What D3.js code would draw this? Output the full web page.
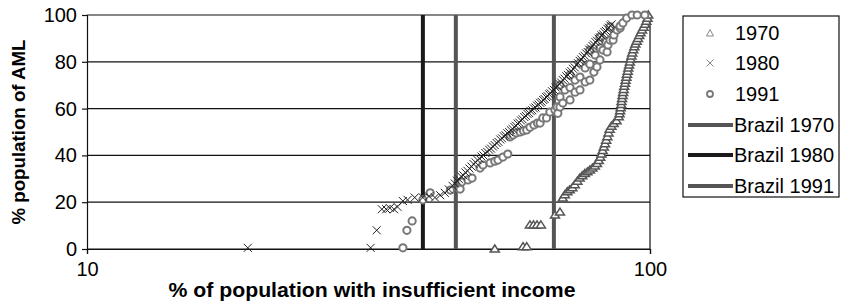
<!DOCTYPE html>
<html>
<head>
<meta charset="utf-8">
<script src="https://cdn.jsdelivr.net/npm/d3@7"></script>
<style>
  body { margin: 0; background: #fff; }
  text { font-family: "Liberation Sans", Arial, Helvetica, sans-serif; fill: #000; }
</style>
</head>
<body>
<svg id="chart" width="841" height="304"></svg>
<script>
// % of population with insufficient income (x) vs % population of AML (y)
var pts1970 = [[53.0,0],[59.5,1],[60.4,1],[61.2,10.3],[62.1,10.3],[63.0,10.3],[64.0,10.3],[67.8,14.5],[69.2,15.8],
  [70.0,21.8],[70.6,23.2],[71.3,24.5],[72.0,25.3],[72.8,26.2],[73.5,27.5],[74.3,29],[75.0,30.3],[75.8,31.3],
  [76.6,32.3],[77.4,33],[78.2,33.8],[79.0,34.6],[79.8,35.5],[80.5,36.5],[81.1,37.8],[81.6,39.2],[82.0,40.6],
  [82.4,42.1],[82.8,43.6],[83.2,45],[83.6,46.5],[84.0,48],[84.4,49.6],[84.8,51.2],[85.4,52.5],[86.2,53.6],
  [87.2,54.8],[88.0,56.5],[88.3,57.8],[88.5,59.1],[88.7,60.4],[88.9,61.7],[89.0,63],[89.2,64.3],[89.4,65.6],
  [89.6,66.9],[89.8,68.2],[90.0,69.5],[90.3,70.8],[90.5,72.1],[90.8,73.4],[91.0,74.7],[91.3,76],[91.5,77.3],
  [91.8,78.6],[92.1,79.9],[92.4,81.2],[92.7,82.5],[93.0,83.8],[93.4,85.1],[93.8,86.4],[94.2,87.6],[94.7,88.8],
  [95.2,90],[95.7,91.2],[96.2,92.4],[96.8,93.6],[97.4,94.8],[98.0,96],[98.5,97.3],[99.0,98.6],[99.3,100]];

var pts1980 = [[19.3,0.5],[31.9,0.5],[32.7,8],[33.4,17],[34.0,17],[34.5,17.5],[35.1,17],[35.6,18],[36.4,20.5],
  [37.1,21],[38.2,22],[39.5,22],[40.5,22.5],[41.5,22],[42.4,23],[43.2,24],[43.9,25.5],[44.6,27],
  [45.0,28],[45.4,29.2],[45.8,29.8],[46.2,31],[46.6,31.5],[47.0,32.7],[47.4,33.4],[47.8,34.4],[48.2,35.2],
  [48.6,36.3],[49.0,37],[49.4,38],[49.8,38.6],[50.2,39.5],[50.6,40],[51.0,41],[51.4,41.5],[51.8,42.4],
  [52.2,42.9],[52.6,43.8],[53.0,44.4],[53.4,45.3],[53.8,45.8],[54.2,46.8],[54.6,47.3],[55.0,48.2],[55.4,48.6],
  [55.8,49.5],[56.2,50],[56.6,50.8],[57.0,51.3],[57.4,52.2],[57.8,52.7],[58.2,53.6],[58.6,54],[59.0,54.9],
  [59.4,55.4],[59.8,56.4],[60.2,56.9],[60.6,57.7],[61.0,58.1],[61.4,58.9],[61.8,59.3],[62.2,60.1],[62.6,60.5],
  [63.0,61.3],[63.4,61.7],[63.8,62.5],[64.2,62.9],[64.6,63.7],[65.0,64.1],[65.4,64.9],[65.8,65.3],[66.2,66.1],
  [66.6,66.5],[67.0,67.4],[67.5,68],[68.0,69],[68.5,69.6],[69.0,70.6],[69.5,71.2],[70.0,72.2],[70.5,72.8],
  [71.0,73.8],[71.5,74.4],[72.0,75.4],[72.5,76],[73.0,77],[73.5,77.6],[74.0,78.7],[74.5,79.4],[75.0,80.4],
  [75.5,81],[76.0,82],[76.5,82.6],[77.0,83.6],[77.5,84.2],[78.0,85.2],[78.5,85.8],[79.0,86.8],[79.5,87.4],
  [80.0,88.4],[80.5,89],[81.0,89.9],[81.5,90.4],[82.0,91.3],[82.5,91.8],[83.0,92.7],[83.5,93.2],[84.0,94.1],
  [84.5,94.6],[85.0,95.5],[85.5,96]];

var pts1991 = [[36.4,0.5],[37.0,8],[37.8,12],[39.5,21],[40.7,24],[44.2,25.2],[46.0,25.6],[46.3,28.6],[47.5,29.5],
  [48.3,30.3],[49.9,34.6],[50.5,35.9],[52.0,36.8],[53.0,37.5],[53.7,38],[54.8,39.3],[55.9,40.6],
  [56.4,47.9],[57.1,48.7],[57.9,49.6],[58.8,50],[59.6,50.5],[60.4,50.9],[61.2,52],[62.2,53],[63.1,53.8],
  [63.8,53.8],[64.5,56],[65.5,56],[66.4,58.5],[67.8,59.4],[68.4,60.7],[68.6,58],
  [69.2,60.7],[69.2,65],[69.2,70],[70.6,68],[70.0,62.4],[72.1,63.7],[72.1,69],[72.1,74.4],[73.6,67],
  [73.6,72.2],[75.1,68],[75.1,73.5],[75.1,79.5],[76.7,71.4],[76.7,77.4],[78.2,72.2],[78.2,79],[78.2,85],
  [79.5,75.6],[79.9,82.9],[80.5,77.8],[81.5,80.8],[81.5,86],[81.5,90.6],[82.5,85],[83.5,88.5],[83.9,84.2],
  [84.2,87.2],[84.9,89.3],[84.9,94.9],[86.0,89.3],[86.3,91.5],[87.4,93.6],[88.5,94.4],[88.5,95.3],
  [89.5,96.6],[90.9,98.7],[92.9,100],[94.9,100],[97.9,100]];

// Brazil reference values (vertical lines)
var brazilNames = ["Brazil 1970", "Brazil 1980", "Brazil 1991"];
var brazilValues = [67.5, 39.5, 45.2];
var brazilColors = ["#555", "#1a1a1a", "#555"];

var yTicks = [0, 20, 40, 60, 80, 100];
var xTicks = [10, 100];

var svg = d3.select("#chart");
var x = d3.scaleLog().domain([10, 100]).range([87, 650]);
var y = d3.scaleLinear().domain([0, 100]).range([249, 15]);

// gridlines
svg.append("g").selectAll("line").data(yTicks).enter().append("line")
  .attr("x1", 87).attr("x2", 650)
  .attr("y1", function(d) { return y(d); }).attr("y2", function(d) { return y(d); })
  .style("stroke", "#111").style("stroke-width", 1.2);
svg.append("line").attr("x1", 650).attr("x2", 650).attr("y1", y(100)).attr("y2", y(0))
  .style("stroke", "#111").style("stroke-width", 1.2);

// axes
var yAxis = svg.append("g").attr("transform", "translate(87,0)")
  .call(d3.axisLeft(y).tickValues(yTicks).tickSize(5).tickPadding(5));
var xAxis = svg.append("g").attr("transform", "translate(0,249)")
  .call(d3.axisBottom(x).tickValues(xTicks).tickFormat(d3.format("d")).tickSize(5).tickPadding(8));
[yAxis, xAxis].forEach(function(a) {
  a.selectAll("path, line").style("stroke", "#111").style("stroke-width", 1.2);
  a.selectAll("text").style("font-size", "20px").style("fill", "#000");
  a.attr("font-family", null);
});

// Brazil lines
var line = d3.line().x(function(d) { return x(d[0]); }).y(function(d) { return y(d[1]); });
brazilValues.forEach(function(v, i) {
  svg.append("path").datum([[v, 0], [v, 100]])
    .attr("d", line)
    .style("stroke", brazilColors[i]).style("stroke-width", 4).style("fill", "none");
});

var triPath = "M-4.5,3L0,-4L4.5,3Z";
var xPath = "M-4,-4L4,4M-4,4L4,-4";

svg.append("g").selectAll("path").data(pts1970).enter().append("path")
  .attr("d", triPath)
  .attr("transform", function(d) { return "translate(" + x(d[0]) + "," + y(d[1]) + ")"; })
  .style("fill", "#fff").style("stroke", "#555").style("stroke-width", 1.5);

svg.append("g").selectAll("circle").data(pts1991).enter().append("circle")
  .attr("cx", function(d) { return x(d[0]); })
  .attr("cy", function(d) { return y(d[1]); })
  .attr("r", 3.6)
  .style("fill", "#fff").style("stroke", "#777").style("stroke-width", 2);

svg.append("g").selectAll("path").data(pts1980).enter().append("path")
  .attr("d", xPath)
  .attr("transform", function(d) { return "translate(" + x(d[0]) + "," + y(d[1]) + ")"; })
  .style("fill", "none").style("stroke", "#222").style("stroke-width", 1);

// axis titles
svg.append("text")
  .attr("transform", "translate(25,132) rotate(-90)")
  .attr("text-anchor", "middle")
  .attr("textLength", 185).attr("lengthAdjust", "spacingAndGlyphs")
  .style("font-size", "19px").style("font-weight", "bold")
  .text("% population of AML");
svg.append("text")
  .attr("x", 372).attr("y", 297)
  .attr("text-anchor", "middle")
  .attr("textLength", 407).attr("lengthAdjust", "spacingAndGlyphs")
  .style("font-size", "20px").style("font-weight", "bold")
  .text("% of population with insufficient income");

// legend
var legend = svg.append("g");
legend.append("rect").attr("x", 683).attr("y", 16).attr("width", 156).attr("height", 181)
  .style("fill", "#fff").style("stroke", "#111").style("stroke-width", 1.2);
var legRows = [33, 63, 94, 125, 155, 186];
var markerNames = ["1970", "1980", "1991"];
markerNames.forEach(function(n, i) {
  var g = legend.append("g").attr("transform", "translate(710," + legRows[i] + ")");
  if (i === 0) g.append("path").attr("d", "M-3.5,3L0,-3.5L3.5,3Z").style("fill", "#fff").style("stroke", "#888");
  if (i === 1) g.append("path").attr("d", "M-3.5,-3.5L3.5,3.5M-3.5,3.5L3.5,-3.5").style("stroke", "#888");
  if (i === 2) g.append("circle").attr("r", 3).style("fill", "#fff").style("stroke", "#777").style("stroke-width", 1.8);
  legend.append("text").attr("x", 735).attr("y", legRows[i]).attr("dy", "0.35em")
    .style("font-size", "20px").text(n);
});
brazilNames.forEach(function(n, i) {
  var r = legRows[i + 3];
  legend.append("line").attr("x1", 688).attr("x2", 733).attr("y1", r).attr("y2", r)
    .style("stroke", brazilColors[i]).style("stroke-width", 4);
  legend.append("text").attr("x", 734).attr("y", r).attr("dy", "0.35em")
    .style("font-size", "20px").text(n);
});
</script>
</body>
</html>
